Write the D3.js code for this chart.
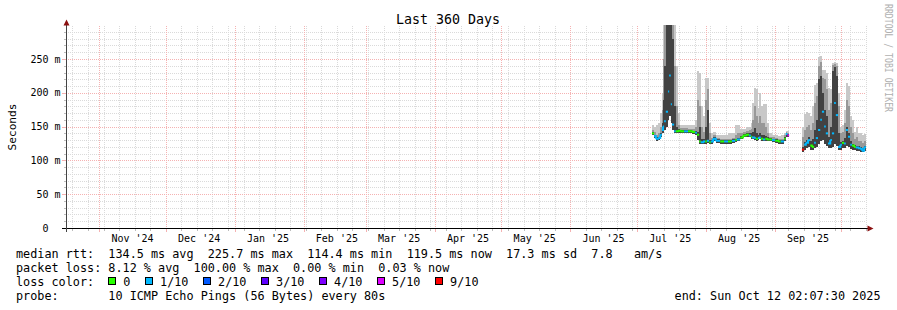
<!DOCTYPE html>
<html><head><meta charset="utf-8">
<script src="https://cdn.jsdelivr.net/npm/d3@7"></script>
<style>
html,body{margin:0;padding:0;background:#fff;}
svg{display:block;}
text{font-family:"DejaVu Sans Mono",monospace;white-space:pre;}
</style></head><body>
<svg id="c" width="897" height="310"></svg>
<script>
// ---------- data (UTC, hour granularity); null rows close a segment ----------
const dates = [
"2025-07-07T18","2025-07-08T18","2025-07-09T12","2025-07-10T12","2025-07-11T12","2025-07-12T06",
"2025-07-12T18","2025-07-13T06","2025-07-14T00","2025-07-15T00","2025-07-15T12","2025-07-16T06",
"2025-07-16T18","2025-07-17T18","2025-07-18T12","2025-07-19T12","2025-07-20T12","2025-07-22T06",
"2025-07-24T00","2025-07-25T18","2025-07-27T06","2025-07-28T00","2025-07-29T00","2025-07-29T18",
"2025-07-30T18","2025-07-31T18","2025-08-01T12","2025-08-02T12","2025-08-03T06","2025-08-04T06",
"2025-08-05T12","2025-08-07T12","2025-08-09T06","2025-08-11T00","2025-08-12T18","2025-08-14T06",
"2025-08-15T00","2025-08-16T12","2025-08-17T18","2025-08-19T00","2025-08-20T12","2025-08-21T06",
"2025-08-21T18","2025-08-22T18","2025-08-23T12","2025-08-24T12","2025-08-25T00","2025-08-25T18",
"2025-08-26T18","2025-08-27T18","2025-08-28T12","2025-08-29T12","2025-08-30T18","2025-09-01T06",
"2025-09-02T12","2025-09-03T18","2025-09-05T06","2025-09-06T00","2025-09-06T18","2025-09-07T12",
"2025-09-13T06","2025-09-14T06","2025-09-15T00","2025-09-16T00","2025-09-17T00","2025-09-17T18",
"2025-09-18T18","2025-09-19T12","2025-09-20T12","2025-09-21T12","2025-09-22T06","2025-09-23T06",
"2025-09-24T00","2025-09-25T00","2025-09-26T00","2025-09-26T18","2025-09-27T18","2025-09-28T12",
"2025-09-29T12","2025-09-30T12","2025-10-01T06","2025-10-02T06","2025-10-03T00","2025-10-04T00",
"2025-10-05T00","2025-10-05T18","2025-10-06T18","2025-10-07T12","2025-10-08T12","2025-10-09T12",
"2025-10-10T06","2025-10-11T06","2025-10-12T02:07:30"
];
// median rtt (ms)
const median = [
140,136,132,133,138,145, 150,158,172,202,225.7,183, 153,143,143,144,143,143,
143,142,141,138,128,127, 128,128,129,127,128,132, 129,128,128,128,129,130,
131,134,137,138,137,135, 134,133,132,133,134,132, 131,132,131,131,130,129,
128,128,132,139,137,null, 116,123,126,130,122,120, 126,133,145,160,172,150,
140,125,130,140,185,167, 120,123,126,125,145,135, 123,122,120,119,118,117,
114.4,119.5,null
];
// lowest ping (ms)
const low = [
137,133,129,130,135,140, 140,145,150,160,165,155, 145,140,140,141,140,140,
140,139,138,130,125,124, 125,125,126,124,125,129, 126,125,125,125,126,127,
128,131,134,135,134,132, 131,130,129,130,131,129, 128,129,128,128,127,126,
125,125,129,135,134,null, 112,116,118,120,116,115, 118,120,125,128,130,125,
122,118,118,120,125,122, 115,116,118,118,122,120, 117,116,115,114,114,113,
112,114,null
];
// top of dark smoke core (ms)
const core = [
142,138,134,135,141,155, 190,240,300,300,300,300, 280,180,150,146,145,145,
145,144,143,142,150,132, 131,150,175,130,130,134, 131,130,130,130,131,132,
133,136,139,140,140,140, 142,148,140,137,140,137, 137,136,134,133,132,131,
130,130,134,141,139,null, 120,127,130,134,128,132, 145,160,220,225,200,175,
165,135,150,232,238,225, 140,127,129,133,150,140, 128,125,123,122,121,120,
118,122,null
];
// top of medium smoke (ms)
const mid = [
145,142,138,140,150,175, 250,300,300,300,300,300, 300,240,180,152,148,148,
147,147,150,190,180,150, 142,190,205,140,133,137, 133,132,132,132,133,138,
140,140,142,144,145,147, 160,180,165,155,165,155, 155,150,140,135,134,133,
132,132,137,142,141,null, 135,145,150,152,145,155, 185,195,240,245,222,220,
205,175,185,241,243,240, 180,140,142,155,190,180, 150,140,132,135,128,128,
126,128,null
];
// highest ping (ms)
const high = [
152,150,152,155,170,200, 300,300,300,300,300,300, 300,300,240,170,153,152,
152,153,160,232,230,180, 165,222,222,155,140,142, 138,137,138,140,140,152,
152,146,147,149,150,155, 185,207,205,178,199,180, 183,183,155,140,138,137,
136,137,140,144,144,null, 150,168,172,170,165,180, 211,215,253,255,234,234,
230,207,205,244,245,244, 200,150,152,175,214,210, 165,160,142,150,140,140,
138,139,null
];
// lost pings out of 10
const loss = [
0,1,1,1,1,1, 1,1,1,1,1,1, 1,1,0,0,0,1,
0,0,1,0,0,1, 1,0,1,0,1,1, 1,0,1,0,1,0,
1,0,0,0,1,0, 1,1,0,1,1,0, 1,0,0,0,1,0,
0,1,0,1,5,null, 9,1,1,1,0,0, 1,1,1,1,1,1,
1,1,1,1,1,1, 1,1,0,1,1,1, 1,0,0,1,1,1,
1,1,null
];
const yTicks = [0,50,100,150,200,250];
const yTickLabels = ["0  ","50 m","100 m","150 m","200 m","250 m"];
const lossLabels = ["0","1/10","2/10","3/10","4/10","5/10","9/10"];
const lossLevels = [0,1,2,3,4,5,9];
const lossColors = ["#26ff00","#00b8ff","#0059ff","#5e00ff","#7e00ff","#dd00ff","#ff0000"];
const legendLines = [
 "median rtt:  134.5 ms avg  225.7 ms max  114.4 ms min  119.5 ms now  17.3 ms sd  7.8   am/s",
 "packet loss: 8.12 % avg  100.00 % max  0.00 % min  0.03 % now"
];
const probeLine = "probe:       10 ICMP Echo Pings (56 Bytes) every 80s";
const endLine = "end: Sun Oct 12 02:07:30 2025";
const title = "Last 360 Days";

// ---------- setup ----------
const svg = d3.select("#c");
const parse = s => new Date(s.length === 13 ? s + ":00:00Z" : s + "Z");
const T = dates.map(parse);
const end = T[T.length-1];
const start = new Date(end.getTime() - 360*864e5);
const X0 = 66, X1 = 866;
const x = d3.scaleUtc().domain([start, end]).range([X0, X1]);
const y = d3.scaleLinear().domain([0, 300]).range([228, 25.2]).clamp(true);
const crisp = v => Math.round(v) + 0.5;
const colorOf = l => lossColors[lossLevels.indexOf(l)];
const MINOR = "#dadada", MAJOR = "#f5b2b2";

// ---------- grid ----------
const grid = svg.append("g");
d3.range(10, 300, 10).filter(v => v % 50).forEach(v => {
  grid.append("line").attr("x1", X0).attr("x2", X1).attr("y1", crisp(y(v))).attr("y2", crisp(y(v)))
    .attr("stroke", MINOR).attr("stroke-dasharray", "1,1");
});
const months = d3.utcMonth.range(d3.utcMonth.ceil(start), end);
const weeks = d3.utcSunday.range(start, end).filter(w => !months.some(m => +m === +w));
weeks.forEach(w => {
  grid.append("line").attr("x1", crisp(x(w))).attr("x2", crisp(x(w))).attr("y1", 26).attr("y2", 228)
    .attr("stroke", MINOR).attr("stroke-dasharray", "1,1");
});
yTicks.filter(v => v > 0).forEach(v => {
  grid.append("line").attr("x1", X0).attr("x2", X1).attr("y1", crisp(y(v))).attr("y2", crisp(y(v)))
    .attr("stroke", MAJOR).attr("stroke-dasharray", "1,1");
});
months.forEach(m => {
  grid.append("line").attr("x1", crisp(x(m))).attr("x2", crisp(x(m))).attr("y1", 26).attr("y2", 228)
    .attr("stroke", MAJOR).attr("stroke-dasharray", "1,1");
});

// ---------- smoke ----------
const smoke = svg.append("g").attr("shape-rendering", "crispEdges");
const layers = [[high, "#c8c8c8"], [mid, "#989898"], [core, "#424242"]];
layers.forEach(([arr, col]) => {
  for (let i = 0; i < T.length - 1; i++) {
    if (median[i] == null) continue;
    const xa = x(T[i]), xb = x(T[i+1]);
    smoke.append("rect").attr("x", xa).attr("width", xb - xa)
      .attr("y", y(arr[i])).attr("height", y(low[i]) - y(arr[i])).attr("fill", col);
  }
});

// ---------- median ----------
const med = svg.append("g").attr("fill", "none").attr("stroke-width", 2);
for (let i = 0; i < T.length - 1; i++) {
  if (median[i] == null) continue;
  const xa = x(T[i]), xb = x(T[i+1]), ya = y(median[i]);
  let d = `M${xa},${ya}H${xb}`;
  if (median[i+1] != null && loss[i+1] === loss[i] && Math.abs(y(median[i+1]) - ya) <= 4) d += `V${y(median[i+1])}`;
  med.append("path").attr("d", d).attr("stroke", colorOf(loss[i]));
}

// ---------- axes ----------
const ax = svg.append("g").attr("shape-rendering", "crispEdges");
d3.range(10, 300, 10).forEach(v => {
  const major = v % 50 === 0;
  ax.append("line").attr("x1", major ? 62 : 64).attr("x2", 66).attr("y1", crisp(y(v))).attr("y2", crisp(y(v)))
    .attr("stroke", major ? MAJOR : "#bdbdbd");
});
weeks.forEach(w => ax.append("line").attr("x1", crisp(x(w))).attr("x2", crisp(x(w))).attr("y1", 228).attr("y2", 231).attr("stroke", "#bdbdbd"));
months.forEach(m => ax.append("line").attr("x1", crisp(x(m))).attr("x2", crisp(x(m))).attr("y1", 228).attr("y2", 232).attr("stroke", MAJOR));
ax.append("line").attr("x1", 62).attr("x2", 869).attr("y1", 228.5).attr("y2", 228.5).attr("stroke", "#000");
ax.append("line").attr("x1", 66.5).attr("x2", 66.5).attr("y1", 232).attr("y2", 23).attr("stroke", "#444");
svg.append("path").attr("d", "M63.5,25.5L66.5,19.5L69.5,25.5Z").attr("fill", "#8b1010");
svg.append("path").attr("d", "M867.5,225.5L873.5,228.5L867.5,231.5Z").attr("fill", "#8b1010");

// tick labels
const fmt = d3.utcFormat("%b '%y");
yTicks.forEach((v, i) => {
  svg.append("text").attr("x", 60.5).attr("y", y(v) + 3.6).attr("text-anchor", "end")
    .attr("font-size", "10px").attr("fill", "#000").text(yTickLabels[i]);
});
months.forEach(m => {
  const c = d3.utcDay.offset(m, 15);
  if (c > end) return;
  svg.append("text").attr("x", x(c)).attr("y", 241.5).attr("text-anchor", "middle")
    .attr("font-size", "10px").attr("fill", "#000").text(fmt(m));
});

// titles
svg.append("text").attr("x", 448).attr("y", 24).attr("text-anchor", "middle")
  .attr("font-size", "13.3px").attr("fill", "#000").text(title);
svg.append("text").attr("transform", "translate(15.5,127) rotate(-90)").attr("text-anchor", "middle")
  .attr("font-size", "11.2px").attr("fill", "#000").text("Seconds");
svg.append("text").attr("transform", "translate(885,4) rotate(90)")
  .attr("font-size", "10px").attr("fill", "#b0b0b0")
  .attr("textLength", 108).attr("lengthAdjust", "spacingAndGlyphs").text("RRDTOOL / TOBI OETIKER");

// ---------- legend ----------
const LF = "11.8px";
const t1 = svg.append("text").attr("x", 16).attr("y", 258).attr("font-size", LF).text(legendLines[0]);
const adv = t1.node().getComputedTextLength() / legendLines[0].length;
svg.append("text").attr("x", 16).attr("y", 272).attr("font-size", LF).text(legendLines[1]);
svg.append("text").attr("x", 16).attr("y", 286).attr("font-size", LF).text("loss color:");
let bx = 16 + 13 * adv;
lossLabels.forEach((lab, i) => {
  svg.append("rect").attr("x", Math.round(bx) + 0.5).attr("y", 277.5).attr("width", 7).attr("height", 7)
    .attr("fill", lossColors[i]).attr("stroke", "#000");
  const tx = bx + 15;
  svg.append("text").attr("x", tx).attr("y", 286).attr("font-size", LF).text(lab);
  bx = tx + lab.length * adv + 14.6;
});
svg.append("text").attr("x", 16).attr("y", 300).attr("font-size", LF).text(probeLine);
svg.append("text").attr("x", 880.5).attr("y", 300).attr("text-anchor", "end").attr("font-size", LF).text(endLine);
</script>
</body></html>
